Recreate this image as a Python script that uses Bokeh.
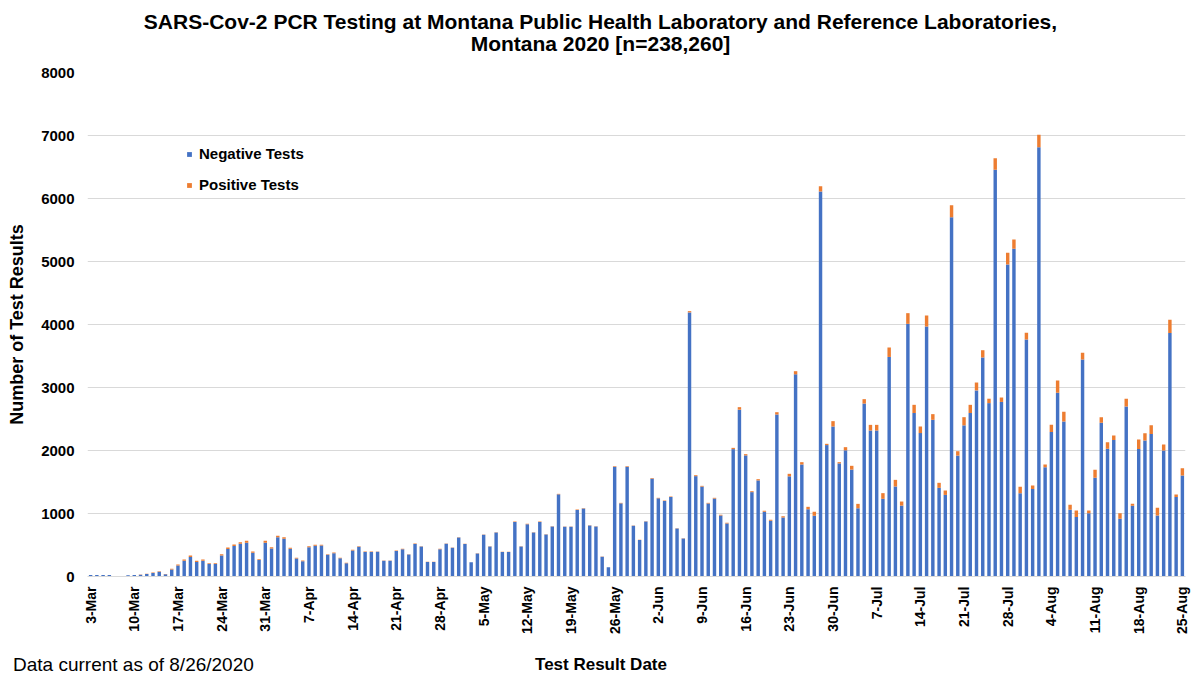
import math
from bokeh.plotting import figure
from bokeh.layouts import column
from bokeh.models import Range1d, FixedTicker, Label, ColumnDataSource, Div
from bokeh.embed import file_html
from bokeh.resources import INLINE

# ---- data, one value per day from 3-Mar to 25-Aug 2020 ----
neg_mar = [24, 24, 24, 23, 0, 0, 18, 22, 26, 39, 57, 75, 35, 110, 175, 250, 308, 229, 250, 197,
           197, 334, 435, 483, 520, 536, 377, 260, 536]
pos_mar = [1, 1, 1, 2, 0, 0, 2, 3, 4, 6, 8, 10, 5, 12, 15, 20, 25, 20, 20, 15,
           15, 20, 25, 25, 25, 30, 20, 15, 30]
neg_apr = [445, 623, 600, 440, 286, 244, 466, 488, 491, 344, 371, 288, 211, 413, 471, 389, 389,
           391, 249, 249, 405, 431, 348, 516, 475, 229, 229, 433, 518, 455]
pos_apr = [20, 25, 25, 15, 10, 10, 15, 15, 12, 10, 10, 8, 6, 10, 10, 8, 8, 6, 5, 5, 8, 8, 6, 8,
           6, 4, 4, 6, 6, 5]
neg_may = [619, 514, 225, 366, 661, 477, 699, 389, 389, 867, 477, 830, 699, 867, 667, 794, 1304,
           789, 789, 1057, 1079, 810, 794, 314, 146, 1741, 1161, 1741, 804, 580, 872]
pos_may = [6, 5, 3, 4, 6, 4, 5, 3, 3, 6, 4, 6, 5, 6, 5, 5, 8, 5, 5, 6, 6, 5, 5, 3, 2, 10, 8, 10,
           6, 5, 6]
neg_jun = [1553, 1241, 1198, 1262, 761, 602, 4192, 1593, 1427, 1159, 1237, 969, 842, 2022, 2648,
           1922, 1339, 1525, 1027, 884, 2571, 938, 1590, 3209, 1778, 1066, 966, 6110, 2086, 2381]
pos_jun = [10, 8, 8, 8, 6, 6, 20, 15, 12, 10, 12, 10, 10, 20, 40, 20, 15, 20, 15, 15, 37, 20, 40,
           50, 37, 40, 60, 85, 20, 85]
neg_jul = [1795, 2003, 1697, 1083, 2745, 2317, 2317, 1233, 3485, 1429, 1125, 4010, 2595, 2276,
           3968, 2487, 1407, 1295, 5704, 1919, 2399, 2595, 2954, 3477, 2752, 6455, 2771, 4953,
           5201, 1323, 3763]
pos_jul = [20, 50, 60, 70, 70, 90, 90, 90, 150, 105, 65, 170, 130, 105, 175, 90, 80, 70, 190, 70,
           130, 130, 125, 115, 70, 185, 70, 185, 148, 100, 105]
neg_aug = [1389, 6815, 1733, 2292, 2916, 2459, 1058, 943, 3445, 1003, 1568, 2439, 2027, 2168, 915,
           2700, 1123, 2025, 2160, 2262, 970, 2000, 3864, 1262, 1605]
pos_aug = [55, 196, 45, 115, 195, 155, 80, 105, 105, 45, 125, 90, 105, 70, 90, 120, 30, 150, 115,
           140, 120, 95, 210, 40, 115]

tick_labels = ["3-Mar", "10-Mar", "17-Mar", "24-Mar", "31-Mar", "7-Apr", "14-Apr", "21-Apr",
               "28-Apr", "5-May", "12-May", "19-May", "26-May", "2-Jun", "9-Jun", "16-Jun",
               "23-Jun", "30-Jun", "7-Jul", "14-Jul", "21-Jul", "28-Jul", "4-Aug", "11-Aug",
               "18-Aug", "25-Aug"]
series_names = ["Negative Tests", "Positive Tests"]
series_colors = ["#4472C4", "#ED7D31"]

title_lines = ["SARS-Cov-2 PCR Testing at Montana Public Health Laboratory and Reference Laboratories,",
               "Montana 2020 [n=238,260]"]
x_title = "Test Result Date"
y_title = "Number of Test Results"
note = "Data current as of 8/26/2020"

negative = neg_mar + neg_apr + neg_may + neg_jun + neg_jul + neg_aug
positive = pos_mar + pos_apr + pos_may + pos_jun + pos_jul + pos_aug
days = list(range(len(negative)))
tick_days = days[::7]

src = ColumnDataSource(dict(day=days, neg=negative, pos=positive))

FONT = "Liberation Sans"

# ---- layout (pixels) ----
W = 1192
TOP_H = 60          # title strip
MAIN_H = 580        # chart
BOT_H = 35          # bottom strip (x title + note)
LEFT, RIGHT, MAIN_TOP, MAIN_BOTTOM = 87, 7, 12, 64
YMAX = 8000

# ---- title strip (its frame is aligned with the chart frame by the column layout) ----
top = figure(width=W, height=TOP_H, output_backend="svg", toolbar_location=None,
             x_range=Range1d(LEFT, W - RIGHT), y_range=Range1d(TOP_H, 0),
             x_axis_type=None, y_axis_type=None,
             min_border_left=LEFT, min_border_right=RIGHT, min_border_top=0, min_border_bottom=0)
top.outline_line_color = None
top.background_fill_color = "white"
top.border_fill_color = "white"
top.grid.visible = False
for text, ypix in zip(title_lines, [21, 43]):
    top.add_layout(Label(x=600, y=ypix, text=text, text_font=FONT, text_font_size="21px",
                         text_font_style="bold", text_align="center", text_baseline="middle",
                         text_color="black"))

# ---- main chart ----
p = figure(width=W, height=MAIN_H, output_backend="svg", toolbar_location=None,
           x_range=Range1d(-0.5, len(days) - 0.5), y_range=Range1d(0, YMAX),
           min_border_left=LEFT, min_border_right=RIGHT, min_border_top=MAIN_TOP,
           min_border_bottom=MAIN_BOTTOM)
p.outline_line_color = None
p.background_fill_color = "white"
p.border_fill_color = "white"

p.vbar_stack(["neg", "pos"], x="day", width=0.55, source=src,
             fill_color=series_colors, line_color=None, legend_label=series_names)

p.xaxis.ticker = FixedTicker(ticks=tick_days)
p.xaxis.major_label_overrides = {d: t for d, t in zip(tick_days, tick_labels)}
p.xaxis.major_label_orientation = math.pi / 2
p.xaxis.major_label_text_font = FONT
p.xaxis.major_label_text_font_style = "bold"
p.xaxis.major_label_text_font_size = "14px"
p.xaxis.major_label_text_color = "black"
p.xaxis.major_tick_out = 0
p.xaxis.major_tick_in = 0
p.xaxis.major_label_standoff = 10
p.xaxis.axis_line_color = "#D9D9D9"
p.xaxis.major_tick_line_color = None
p.xaxis.minor_tick_line_color = None

p.yaxis.ticker = FixedTicker(ticks=list(range(0, YMAX + 1, 1000)))
p.yaxis.major_label_text_font = FONT
p.yaxis.major_label_text_font_style = "bold"
p.yaxis.major_label_text_font_size = "15px"
p.yaxis.major_label_text_color = "black"
p.yaxis.major_tick_out = 0
p.yaxis.major_tick_in = 0
p.yaxis.major_label_standoff = 13
p.yaxis.axis_line_color = None
p.yaxis.major_tick_line_color = None
p.yaxis.minor_tick_line_color = None
p.yaxis.axis_label = y_title
p.yaxis.axis_label_text_font = FONT
p.yaxis.axis_label_text_font_style = "bold"
p.yaxis.axis_label_text_font_size = "18px"
p.yaxis.axis_label_text_color = "black"
p.yaxis.axis_label_standoff = 11

p.xgrid.grid_line_color = None
p.ygrid.grid_line_color = "#D9D9D9"
p.ygrid.grid_line_width = 1

lg = p.legend[0]
lg.location = (99, 383)
lg.margin = 0
lg.padding = 0
lg.border_line_color = None
lg.background_fill_alpha = 0
lg.glyph_width = 6
lg.glyph_height = 6
lg.label_height = 16
lg.spacing = 14
lg.label_standoff = 7
lg.label_text_font = FONT
lg.label_text_font_style = "bold"
lg.label_text_font_size = "15px"
lg.label_text_color = "black"

# ---- bottom strip: x title and data note ----
bottom_html = (
    f'<div style="position:relative;width:{W}px;height:{BOT_H}px;'
    f'font-family:\'{FONT}\';color:black;">'
    f'<span style="position:absolute;left:13px;top:14px;font-size:19px;'
    f'line-height:21px;white-space:nowrap;">{note}</span>'
    f'<span style="position:absolute;left:401px;width:400px;top:15px;text-align:center;'
    f'font-size:17px;font-weight:bold;line-height:20px;white-space:nowrap;">{x_title}</span>'
    f'</div>'
)
bot = Div(text=bottom_html, width=W, height=BOT_H, styles={"margin": "0", "padding": "0"})

layout = column(top, p, bot, spacing=0)
open("out.html", "w").write(file_html(layout, INLINE))
